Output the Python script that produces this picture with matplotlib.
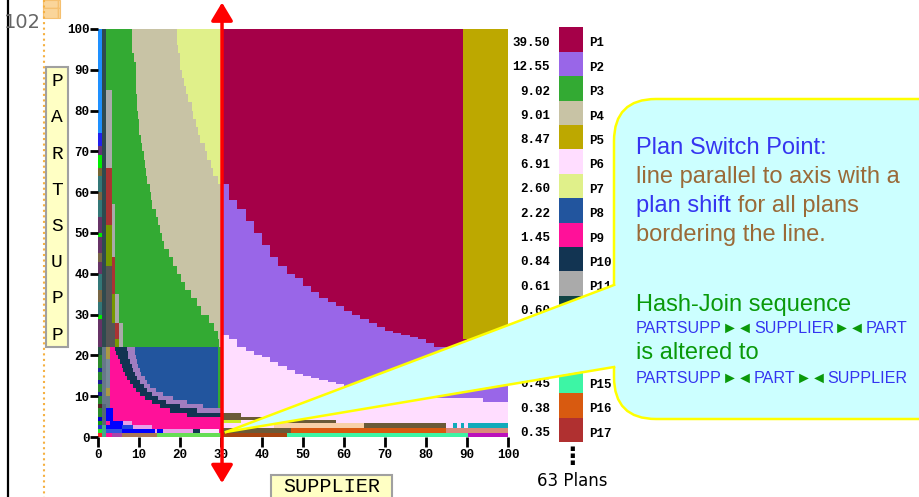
import matplotlib
matplotlib.use('Agg')
import matplotlib.pyplot as plt
from matplotlib.patches import Rectangle, FancyBboxPatch, Polygon

# ---- legend: plans, costs and colours ----
plan_names = ['P1', 'P2', 'P3', 'P4', 'P5', 'P6', 'P7', 'P8', 'P9', 'P10',
              'P11', 'P12', 'P13', 'P14', 'P15', 'P16', 'P17']
plan_costs = [39.50, 12.55, 9.02, 9.01, 8.47, 6.91, 2.60, 2.22, 1.45, 0.84,
              0.61, 0.60, 0.55, 0.50, 0.45, 0.38, 0.35]
plan_colors = ['#A50048', '#9966E8', '#33AA33', '#C8C3A5', '#BDA800', '#FFDDFF',
               '#E0F08A', '#22559E', '#FF1199', '#123452', '#AAAAAA', '#114444',
               '#A07DC0', '#6B5A38', '#3DF5A5', '#D85A10', '#B03030']
P = dict(zip(plan_names, plan_colors))

# ---- right half (SUPPLIER >= 30): region boundaries read every 2 units ----
right_x = [30, 32, 34, 36, 38, 40, 42, 44, 46, 48,
           50, 52, 54, 56, 58, 60, 62, 64, 66, 68,
           70, 72, 74, 76, 78, 80, 82, 84, 86, 88,
           90, 92, 94, 96, 98, 100]
p2_top = [62, 58, 56, 53, 50, 47, 44, 42, 40, 39,
          37, 35.5, 34, 33, 32, 31, 30, 29, 28, 27,
          26, 25.5, 25, 24.5, 24, 23, 22, 22, 22, 22,
          24, 24, 24, 24, 24, 24]
p6_top = [25, 24, 22, 21, 20, 19.5, 18.5, 17.5, 16.5, 15.5,
          15, 14.5, 14, 13.5, 13, 12.5, 12, 12, 11.5, 11,
          11, 11, 10.5, 10.5, 10, 10, 9.5, 9.5, 9.5, 9.5,
          9.5, 9.5, 8.5, 8.5, 8.5, 8.5]
p5_left, p5_bottom = 89, 24

# ---- left half (SUPPLIER < 30), PARTSUPP >= 22 ----
left_y = [22, 24, 26, 28, 30, 32, 34, 36, 38, 40,
          42, 44, 46, 48, 50, 52, 54, 56, 58, 60,
          62, 64, 66, 68, 70, 72, 74, 76, 78, 80,
          82, 84, 86, 88, 90, 92, 94, 96, 98, 100]
p3_right = [29.5, 29.3, 28.3, 27.1, 25.2, 24.2, 22.6, 21.2, 20.2, 19.2,
            18.2, 17.2, 16.1, 15.6, 15.1, 14.6, 14.1, 13.2, 12.9, 12.6,
            12.0, 11.8, 11.5, 11.1, 10.8, 10.5, 10.1, 10.1, 9.8, 9.6,
            9.4, 9.2, 9.2, 9.2, 9.2, 8.7, 8.2, 8.2, 8.2, 8.2]
p4_right = [30, 30, 30, 30, 30, 30, 30, 30, 30, 30,
            30, 30, 30, 30, 30, 30, 30, 30, 30, 30,
            29.2, 28.1, 27.5, 26.5, 26, 25, 24.5, 24, 23.1, 23,
            22, 21.5, 21, 20.5, 20, 20, 19.5, 19.2, 19.2, 19.2]

# ---- lower left corner (PARTSUPP < 22), one row per unit ----
low_y = [0, 1, 2, 3, 4, 5, 6, 7, 8, 9, 10, 11, 12, 13, 14, 15, 16, 17, 18, 19, 20, 21, 22]
p9_right = [30, 30, 30, 30, 30, 21.6, 17.6, 15.1, 13.1, 11.5, 10.2, 9.3,
            8.5, 7.8, 7.0, 6.6, 6.2, 5.8, 5.4, 5.0, 4.4, 4.1, 4.1]
p10_right = [30, 30, 30, 30, 30, 30, 24.1, 20.0, 16.7, 14.7, 13.1, 11.9,
             11.1, 10.2, 9.4, 9.0, 8.6, 8.2, 7.8, 7.4, 7.2, 7.0, 7.0]
p13_right = [30, 30, 30, 30, 30, 30, 30, 25.7, 21.6, 18.4, 15.9, 14.1,
             12.7, 12.0, 11.5, 10.6, 10.2, 9.8, 9.4, 9.3, 9.0, 9.0, 9.0]

# small plan pockets: (x0, x1, y0, y1, colour)
edge_pockets = [
    # thin columns along the PARTSUPP axis
    (0, 0.9, 74.5, 100, '#1E90FF'), (0, 0.9, 71.3, 74.5, '#2020EE'),
    (0, 0.9, 69, 71.3, '#663377'), (0, 0.9, 66, 69, '#00EE00'),
    (0, 0.9, 64, 66, '#776633'), (0, 0.9, 60, 64, '#337777'),
    (0, 0.9, 58, 60, '#776644'), (0, 0.9, 54, 58, '#337777'),
    (0, 0.9, 50, 54, '#663366'), (0, 0.9, 49, 50, '#00EE00'),
    (0, 0.9, 45, 49, '#663366'), (0, 0.9, 43, 45, '#776644'),
    (0, 0.9, 40, 43, '#663366'), (0, 0.9, 36, 40, '#337777'),
    (0, 0.9, 33, 36, '#776644'), (0, 0.9, 30, 33, '#337777'),
    (0, 0.9, 29, 30, '#00EE00'), (0, 0.9, 22, 29, '#663366'),
    (0.9, 1.95, 22, 100, '#2F4A4F'),
    (1.95, 3.3, 66, 85, '#AAAAAA'), (1.95, 3.3, 52, 66, '#AA3333'),
    (1.95, 3.3, 42, 52, '#779900'), (1.95, 3.3, 22, 42, '#555555'),
    (3.3, 4.1, 44, 57, '#AAAAAA'), (3.3, 4.1, 35, 44, '#AA3333'),
    (3.3, 4.1, 28, 35, '#779900'), (3.3, 4.1, 22, 28, '#555555'),
    (4.1, 5.2, 28, 35, '#AAAAAA'), (4.1, 5.2, 24, 28, '#AA3333'),
    (4.1, 5.2, 22, 24, '#779900'), (5.2, 6.2, 22, 28, '#AAAAAA'),
    (0, 0.9, 0, 1, '#FF2222'), (0, 0.9, 1, 2, '#22EE22'), (0, 0.9, 2, 3, '#2233CC'),
    (0, 0.9, 3, 4, '#119911'), (0, 0.9, 4, 5, '#0000CC'), (0, 0.9, 5, 7, '#2A8A2A'),
    (0, 0.9, 7, 8, '#552222'), (0, 0.9, 8, 10, '#2A8A2A'), (0, 0.9, 10, 11, '#1A1A99'),
    (0, 0.9, 11, 13, '#2A8A2A'), (0, 0.9, 13, 14, '#1A1A99'), (0, 0.9, 14, 16, '#2A8A2A'),
    (0, 0.9, 16, 17, '#1A2A99'), (0, 0.9, 17, 20, '#2A8A2A'), (0, 0.9, 20, 22, '#225544'),
    (0.9, 1.95, 0, 3, '#44AA88'), (0.9, 1.95, 3, 8, '#556677'), (0.9, 1.95, 8, 22, '#667788'),
    (1.95, 2.9, 7, 10, '#667788'), (1.95, 2.9, 10, 12, '#AA9944'),
    (1.95, 2.9, 12, 19, '#778899'), (1.95, 2.9, 19, 22, '#AA9944'),
    (29.2, 30, 7, 22, '#33AA33'),
    # bottom rows, left half
    (3.3, 5.8, 0, 1, '#AA44AA'), (5.8, 14.3, 0, 1, '#AA7755'), (14.3, 30, 0, 1, '#66DD55'),
    (1.95, 5.8, 1, 2, '#3355DD'), (5.8, 13.9, 1, 2, '#0000FF'), (13.9, 14.3, 1, 2, '#E8A0E8'),
    (14.3, 15.9, 1, 2, '#0000FF'), (15.9, 23.2, 1, 2, '#E8A0E8'), (23.2, 24.9, 1, 2, '#123452'),
    (24.9, 29.5, 1, 2, '#FFE4FF'),
    (1.95, 5.8, 2, 3, '#0000FF'), (5.8, 8.6, 2, 3, '#2244DD'), (8.6, 13.1, 2, 3, '#E8A0E8'),
    (2.9, 6.2, 3, 4, '#0000FF'), (6.2, 8.2, 3, 4, '#E8A0E8'),
    (1.95, 3.7, 4, 7, '#0000FF'),
    # bottom rows, right half
    (30, 46, 0, 1, '#A84410'), (46, 90.2, 0, 1, '#3DF5A5'), (90.2, 100, 0, 1, '#BB11BB'),
    (30, 47, 1, 2.1, '#6B5A38'), (47, 85, 1, 2.1, '#D85A10'), (85, 100, 1, 2.1, '#D98A7A'),
    (43, 65, 2.1, 3.4, '#F8D0A8'), (65, 85, 2.1, 3.4, '#6B5A38'),
    (86.5, 87.6, 2.1, 3.4, '#11AABB'), (88.5, 89.3, 2.1, 3.4, '#11AABB'),
    (90.2, 100, 2.1, 3.4, '#11AABB'),
    (30, 35, 3.4, 4.2, '#CCEE22'), (42.5, 44, 3.4, 4.2, '#CCEE22'), (45, 58, 3.4, 4.2, '#6B5A38'),
    (30, 35, 4.2, 6.0, '#6B5A38'), (35, 45, 4.2, 5.0, '#6B5A38'),
]

ticks = [0, 10, 20, 30, 40, 50, 60, 70, 80, 90, 100]
switch_x = 30.25

fig = plt.figure(figsize=(9.2, 4.97), dpi=100)
ax = fig.add_axes([98 / 920, 60 / 497, 410 / 920, 408 / 497])
ax.set_xlim(0, 100)
ax.set_ylim(0, 100)

kw = dict(linewidth=0, antialiased=False)
# right half
ax.fill_between([30, 100], 0, 100, color=P['P1'], **kw)
ax.fill_between([p5_left, 100], p5_bottom, 100, color=P['P5'], **kw)
ax.fill_between(right_x, 0, p2_top, step='post', color=P['P2'], **kw)
ax.fill_between(right_x, 0, p6_top, step='post', color=P['P6'], **kw)
# left half, upper part
ax.fill_between([0, 30], 22, 100, color=P['P7'], **kw)
ax.fill_betweenx(left_y, 0, p4_right, step='post', color=P['P4'], **kw)
ax.fill_betweenx(left_y, 0, p3_right, step='post', color=P['P3'], **kw)
# lower-left corner
ax.fill_between([0, 29.2], 0, 22, color=P['P8'], **kw)
ax.fill_betweenx(low_y, 0, p13_right, step='post', color=P['P13'], **kw)
ax.fill_betweenx(low_y, 0, p10_right, step='post', color=P['P10'], **kw)
ax.fill_betweenx(low_y, 0, p9_right, step='post', color=P['P9'], **kw)
# pockets
ax.bar([p[0] for p in edge_pockets], [p[3] - p[2] for p in edge_pockets],
       width=[p[1] - p[0] for p in edge_pockets],
       bottom=[p[2] for p in edge_pockets], align='edge',
       color=[p[4] for p in edge_pockets], linewidth=0, antialiased=False)

for s in ax.spines.values():
    s.set_visible(False)
ax.set_xticks(ticks)
ax.set_yticks(ticks)
ax.tick_params(axis='x', length=7, width=2, pad=1.5)
ax.tick_params(axis='y', length=6, width=2, pad=0)
for lab in ax.get_xticklabels() + ax.get_yticklabels():
    lab.set_fontfamily('Liberation Mono')
    lab.set_fontweight('bold')
    lab.set_fontsize(9)

# plan switch line
ax.annotate('', xy=(switch_x, 106.5), xytext=(switch_x, -11.3),
            arrowprops=dict(arrowstyle='<|-|>,head_length=0.55,head_width=0.33',
                            color='#FF0000', lw=2.5, shrinkA=0, shrinkB=0,
                            mutation_scale=20),
            annotation_clip=False, zorder=10)

# ---- overlay in pixel units for slide decorations ----
ov = fig.add_axes([0, 0, 1, 1])
ov.set_xlim(0, 920)
ov.set_ylim(497, 0)
ov.set_facecolor('none')
ov.axis('off')

ov.plot([8, 8], [0, 497], color='black', lw=1.6)
ov.plot([44.5, 44.5], [0, 497], color='#F5B041', lw=1.5, ls=':')
ov.add_patch(Rectangle((43, 0), 17, 18, facecolor='#FAD59A', edgecolor='#F5C070',
                       hatch='+', lw=0.8))
ov.text(4, 23, '102', fontsize=14, color='#666666', va='center', ha='left')

mono = 'Liberation Mono'
# axis labels in yellow boxes
ov.add_patch(Rectangle((46, 67), 22, 280, facecolor='#FFFFC4', edgecolor='#A0A0A0', lw=1.5))
for i, ch in enumerate('PARTSUPP'):
    ov.text(57, 81.7 + 36.2 * i, ch, fontsize=14, family=mono, ha='center', va='center')
ov.add_patch(Rectangle((271, 475), 121, 30, facecolor='#FFFFC4', edgecolor='#A0A0A0', lw=1.5))
ov.text(331.5, 486.5, 'SUPPLIER', fontsize=14.5, family=mono, ha='center', va='center')

# legend
for i, (name, cost, col) in enumerate(zip(plan_names, plan_costs, plan_colors)):
    top = 27.3 + 24.4 * i
    ov.add_patch(Rectangle((559, top), 24, 24.4, facecolor=col, edgecolor='none'))
    ov.text(550, top + 15.5, f'{cost:.2f}', ha='right', va='center', family=mono,
            fontweight='bold', fontsize=9)
    ov.text(589, top + 16, name, ha='left', va='center', family=mono,
            fontweight='bold', fontsize=9)
ov.text(572, 457, '\u22ee', ha='center', va='center', fontsize=17, fontweight='bold',
        family='DejaVu Sans')
ov.text(572, 481, '63 Plans', ha='center', va='center', fontsize=12, family='DejaVu Sans')

# callout
cyan, yel = '#CCFFFF', '#FFFF00'
ov.add_patch(FancyBboxPatch((614, 99), 360, 320, boxstyle='round,pad=0,rounding_size=42',
                            facecolor=cyan, edgecolor=yel, lw=1.8, zorder=5))
tip = (226, 432)
ov.add_patch(Polygon([tip, (612, 285.5), (650, 285.5), (650, 366.5), (612, 366.5)],
                     closed=True, facecolor=cyan, edgecolor='none', zorder=6))
ov.plot([tip[0], 614], [tip[1], 285], color=yel, lw=1.8, zorder=7)
ov.plot([tip[0], 614], [tip[1], 367], color=yel, lw=1.8, zorder=7)

sans = ['Liberation Sans', 'DejaVu Sans']
blue, brown, green = '#3535F0', '#9A6A38', '#0A990A'
renderer = fig.canvas.get_renderer()


def rich_line(y, parts, size, x=636):
    for s, c in parts:
        t = ov.text(x, y, s, color=c, fontsize=size, family=sans, va='baseline',
                    ha='left', zorder=8)
        x += t.get_window_extent(renderer).width


rich_line(154, [('Plan Switch Point:', blue)], 17)
rich_line(183, [('line parallel to axis with a', brown)], 17)
rich_line(212, [('plan shift', blue), (' for all plans', brown)], 17)
rich_line(241, [('bordering the line.', brown)], 17)
rich_line(311, [('Hash-Join sequence', green)], 17)
rich_line(333, [('PARTSUPP', blue), ('\u25ba\u25c4', green), ('SUPPLIER', blue),
                ('\u25ba\u25c4', green), ('PART', blue)], 11.6)
rich_line(359, [('is altered to', green)], 17)
rich_line(383, [('PARTSUPP', blue), ('\u25ba\u25c4', green), ('PART', blue),
                ('\u25ba\u25c4', green), ('SUPPLIER', blue)], 11.6)

fig.savefig('out.png', dpi=100)
